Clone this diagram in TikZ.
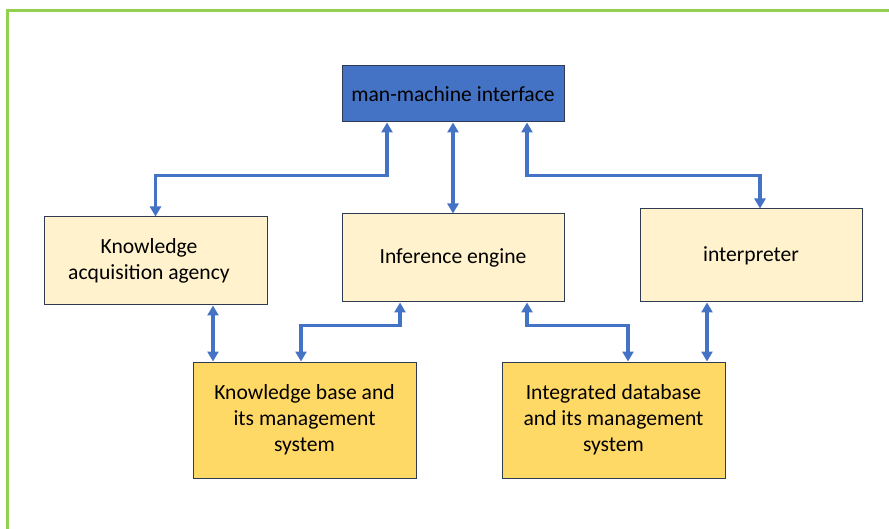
\documentclass[tikz,border=0pt]{standalone}
\usepackage{fontspec}
\setmainfont{Carlito}
\usetikzlibrary{arrows.meta}
\definecolor{lineblue}{HTML}{4472C4}
\definecolor{boxedge}{HTML}{2F3B52}
\definecolor{lightfill}{HTML}{FFF2CC}
\definecolor{darkfill}{HTML}{FFD966}
\definecolor{framegreen}{HTML}{92D050}
\tikzset{
  boxtext/.style={inner sep=0pt, align=center,
    font=\fontsize{21.6}{26}\selectfont, text=black},
  box/.style={boxtext, draw=boxedge, line width=1pt, rectangle},
  lightbox/.style={box, fill=lightfill},
  darkbox/.style={box, fill=darkfill},
  topbox/.style={box, fill=lineblue},
  conn/.style={draw=lineblue, line width=3.2pt,
    {Triangle[length=10pt,width=11pt]}-{Triangle[length=10pt,width=11pt]}}
}
\begin{document}
\begin{tikzpicture}[x=1pt,y=-1pt]
\useasboundingbox (0,0) rectangle (889,529);
\draw[framegreen, line width=3pt] (7,11) rectangle (900,540);

\node[topbox, minimum width=222pt, minimum height=56pt] (mmi) at (453,94) {man-machine interface};
\node[lightbox, minimum width=223pt, minimum height=88pt] (kaa) at (155.5,261) {};
\node[boxtext] (kaatext) at (149,261) {Knowledge\\acquisition agency};
\node[lightbox, minimum width=222pt, minimum height=88pt] (ie) at (453,258) {Inference engine};
\node[lightbox, minimum width=222pt, minimum height=93pt] (interp) at (751,255.5) {interpreter};
\node[darkbox, minimum width=223pt, minimum height=116pt] (kb) at (304.5,420) {Knowledge base and\\its management\\system};
\node[darkbox, minimum width=223pt, minimum height=116pt] (idb) at (613.5,420) {Integrated database\\and its management\\system};

\draw[conn] ([xshift=-66pt]mmi.south) -- ++(0,53) -| (kaa.north);
\draw[conn] (mmi.south) -- (ie.north);
\draw[conn] ([xshift=74pt]mmi.south) -- ++(0,53) -| ([xshift=9pt]interp.north);
\draw[conn] ([xshift=57.5pt]kaa.south) -- ([xshift=-91.5pt]kb.north);
\draw[conn] ([xshift=-53pt]ie.south) -- ++(0,23) -| ([xshift=-3.5pt]kb.north);
\draw[conn] ([xshift=74pt]ie.south) -- ++(0,23) -| ([xshift=14.5pt]idb.north);
\draw[conn] ([xshift=-44pt]interp.south) -- ([xshift=93.5pt]idb.north);
\end{tikzpicture}
\end{document}
